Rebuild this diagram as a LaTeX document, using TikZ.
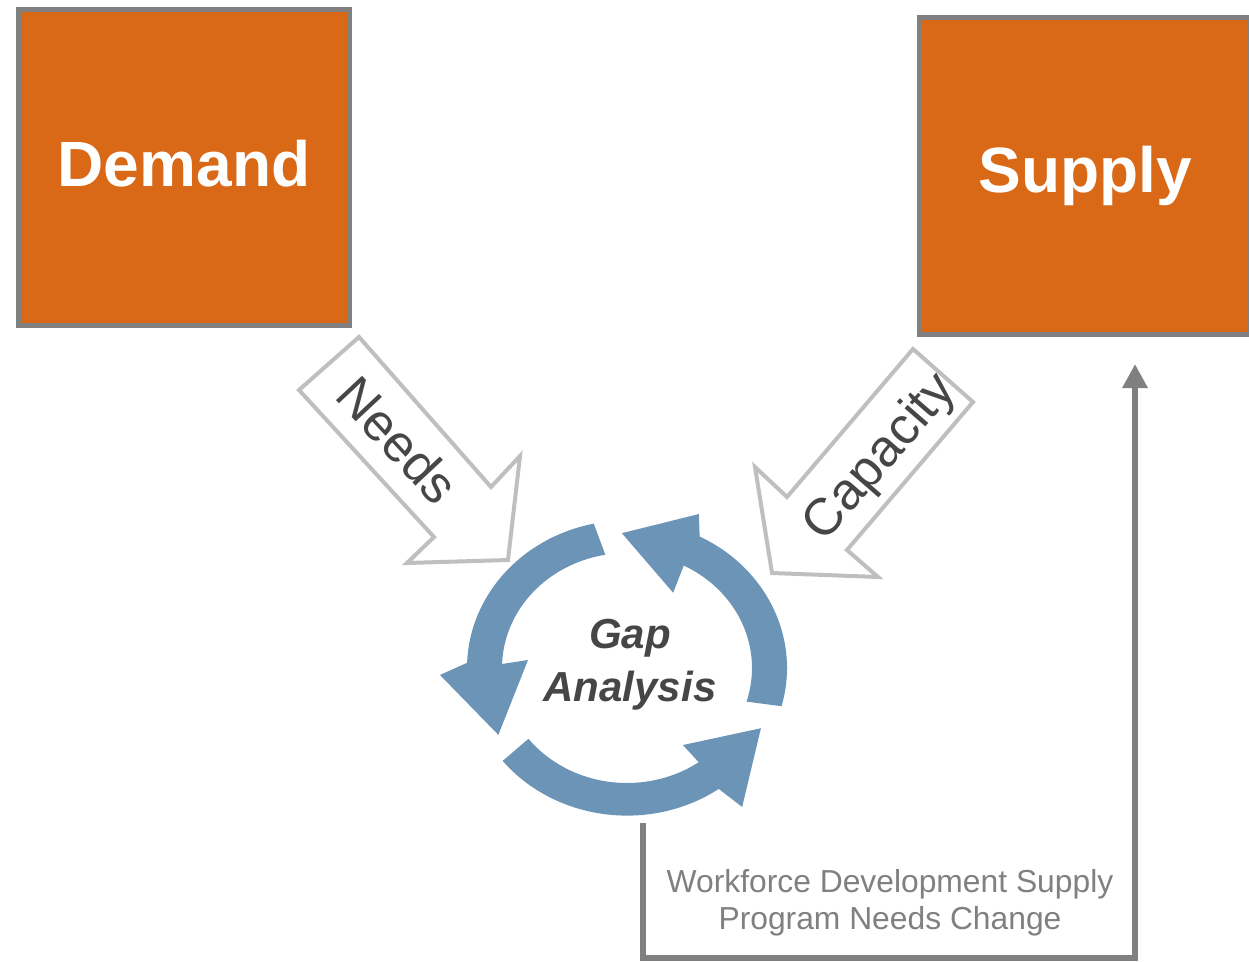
\documentclass[tikz,border=0pt]{standalone}
\usepackage{fontspec}
\setmainfont{Liberation Sans}
\usepackage{tikz}
\usetikzlibrary{arrows.meta}

\definecolor{boxorange}{RGB}{217,105,22}
\definecolor{boxgray}{RGB}{128,128,128}
\definecolor{outlinegray}{RGB}{191,191,191}
\definecolor{cycleblue}{RGB}{107,148,182}
\definecolor{textgray}{RGB}{70,70,70}

\begin{document}
\begin{tikzpicture}[x=1pt, y=-1pt,
    bigbox/.style={draw=boxgray, line width=5pt, fill=boxorange, inner sep=0pt, minimum width=331pt, minimum height=316pt, text=white, font=\fontsize{64}{70}\selectfont\bfseries},
    blockarrow/.style={draw=outlinegray, line width=4pt, fill=white},
    arrowlabel/.style={text=textgray, font=\fontsize{52}{58}\selectfont},
    cyclearrow/.style={fill=cycleblue},
    feedback/.style={draw=boxgray, line width=6pt, -{Triangle[length=24pt, width=24pt]}}]
        \useasboundingbox (0,0) rectangle (1249,961);
        \node [bigbox, text depth=8pt] (demand) at (184,167.5) {Demand};
        \node [bigbox, minimum height=317pt] (supply) at (1085,176) {Supply};
        % block arrows
        \draw [blockarrow] (299,390) -- (359,337) -- (491,487) -- (520,456) -- (508,560) -- (407,563) -- (434,537) -- cycle;
        \node [arrowlabel, rotate=-47] (needs) at (398,440) {Needs};
        \draw [blockarrow] (913,349) -- (973,402) -- (847,550) -- (878,577) -- (772,573) -- (755,467) -- (787,497) -- cycle;
        \node [arrowlabel, rotate=49] (capacity) at (881,458) {Capacity};
        % cycle
        \begin{scope}[shift={(627,668)}]
        \fill [cyclearrow] (-102:160 and 147.6) arc [start angle=-102, end angle=-178, x radius=160, y radius=147.6] -- (-182.3:187.2 and 172.7) -- (-209.4:147.7 and 136.2) -- (-175:99.4 and 91.7) -- (-178:125 and 115) arc [start angle=-178, end angle=-100, x radius=125, y radius=115] -- cycle;
        \fill [cyclearrow] (15:160 and 147.6) arc [start angle=15, end angle=-63, x radius=160, y radius=147.6] -- (-66.7:181.8 and 167.7) -- (-92:146.3 and 134.9) -- (-60.5:93.7 and 86.5) -- (-63:125 and 115) arc [start angle=-63, end angle=17, x radius=125, y radius=115] -- cycle;
        \fill [cyclearrow] (-219:160 and 147.6) arc [start angle=-219, end angle=-305, x radius=160, y radius=147.6] -- (-307.4:189.6 and 174.9) -- (-334:149 and 137.4) -- (-303.8:100.5 and 92.7) -- (-305:125 and 115) arc [start angle=-305, end angle=-218, x radius=125, y radius=115] -- cycle;
        \end{scope}
        \node [text=textgray, font=\fontsize{42}{53}\selectfont\bfseries\itshape, align=center] (gap) at (630,665) {Gap\\Analysis};
        % feedback loop
        \coordinate (fbstart) at (643,823);
        \coordinate (fbcorner) at (1135,958);
        \coordinate (fbend) at (1135,364);
        \draw [feedback] (fbstart) |- (fbcorner) -- (fbend);
        \node [text=boxgray, font=\fontsize{31.8}{37}\selectfont, align=center] (fblabel) at (890,903) {Workforce Development Supply\\Program Needs Change};
    \end{tikzpicture}
\end{document}
